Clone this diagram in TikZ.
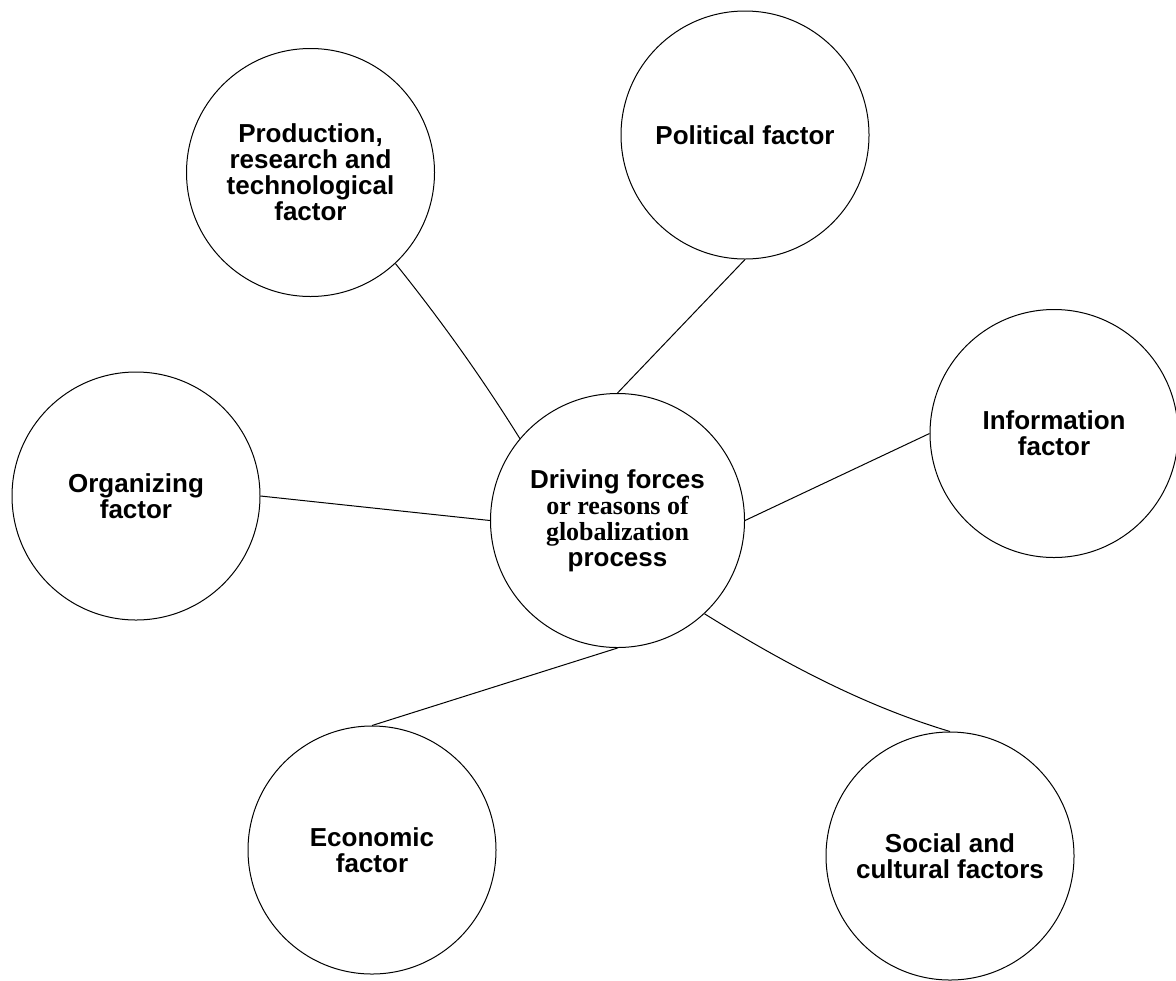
\documentclass[tikz,border=0pt]{standalone}
\usepackage{fontspec}
\setmainfont{Liberation Sans}
\newfontfamily\serifbf{Liberation Serif}
\usetikzlibrary{positioning}
\tikzset{factor/.style = {draw, circle, line width = 0.5pt, inner sep = 0, minimum size = 124pt, align = center, font = \fontsize{13}{13}\selectfont\bfseries}}
\tikzset{hub/.style = {factor, minimum size = 127pt}}
\tikzset{link/.style = {line width = 0.5pt}}

\begin{document}
\begin{tikzpicture}[x=0.5pt, y=-0.5pt]
      \useasboundingbox (0, 0) rectangle (1176, 980);
      % circles
      \node [hub] (hub) at (617.5, 520.5) {Driving forces\\{\serifbf or reasons of}\\{\serifbf globalization}\\process};
      \node [factor] (prod) at (310.5, 172.5) {Production,\\research and\\technological\\factor};
      \node [factor] (pol) at (745, 135) {Political factor};
      \node [factor] (info) at (1054, 433.5) {Information\\factor};
      \node [factor] (org) at (136, 496) {Organizing\\factor};
      \node [factor] (econ) at (372, 850) {Economic\\factor};
      \node [factor] (soc) at (950, 856) {Social and\\cultural factors};

      % links
      \draw [link] (prod.-47) .. controls +(45, 56) and +(-38, -61) .. (hub.140);
      \draw [link] (pol.south) -- (hub.north);
      \draw [link] (info.west) -- (hub.east);
      \draw [link] (org.east) -- (hub.west);
      \draw [link] (econ.north) -- (hub.south);
      \draw [link] (hub.-47) .. controls +(77, 48) and +(-87, -26) .. (soc.north);

    \end{tikzpicture}
\end{document}
